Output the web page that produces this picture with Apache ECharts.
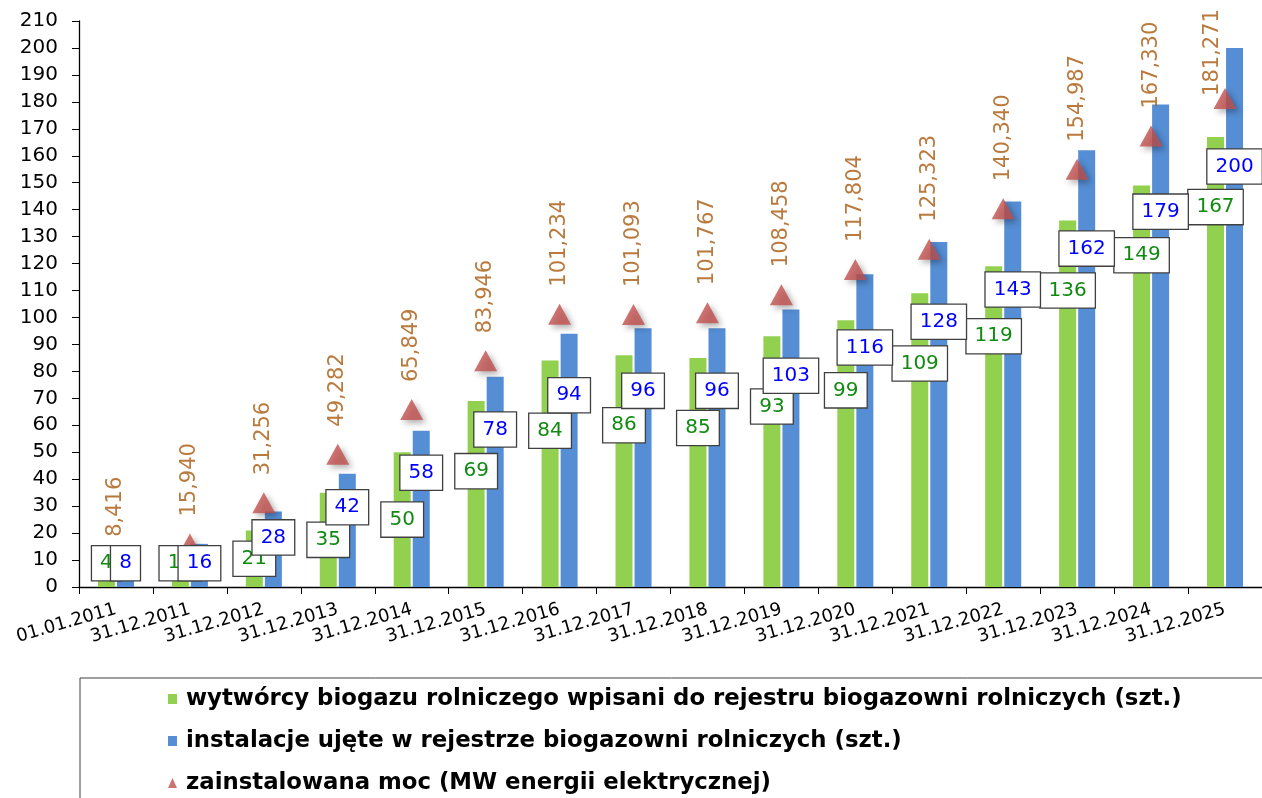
<!DOCTYPE html>
<html>
<head>
<meta charset="utf-8">
<script src="https://cdn.jsdelivr.net/npm/echarts@6/dist/echarts.min.js"></script>
<style>
html,body{margin:0;padding:0;background:#fff;}
#chart{width:1262px;height:798px;}
</style>
</head>
<body>
<div id="chart"></div>
<script>
const categories = ['01.01.2011','31.12.2011','31.12.2012','31.12.2013','31.12.2014','31.12.2015','31.12.2016','31.12.2017','31.12.2018','31.12.2019','31.12.2020','31.12.2021','31.12.2022','31.12.2023','31.12.2024','31.12.2025'];
const producers = [4,10,21,35,50,69,84,86,85,93,99,109,119,136,149,167];
const installations = [8,16,28,42,58,78,94,96,96,103,116,128,143,162,179,200];
const capacityMW = [8.416,15.940,31.256,49.282,65.849,83.946,101.234,101.093,101.767,108.458,117.804,125.323,140.340,154.987,167.330,181.271];
const seriesNames = [
  'wytwórcy biogazu rolniczego wpisani do rejestru biogazowni rolniczych (szt.)',
  'instalacje ujęte w rejestrze biogazowni rolniczych (szt.)',
  'zainstalowana moc (MW energii elektrycznej)'
];
const yMin = 0, yMax = 210, yStep = 10;

const FONT = 'DejaVu Sans';
const GREEN = '#92D050', BLUE = '#558ED5', RED = '#C0504D', BROWN = '#A9570C';

// label placement rule (in value units): where the centre of the boxed label sits
function greenLabelAt(v){ return Math.max(8.8, 0.5*v, v-26); }
function blueLabelAt(v){ return Math.max(8.8, 0.8*v-4); }
function boxLabel(v, at, color){
  const pct = ((v - at) / v * 100).toFixed(1) + '%';
  return {
    value: v,
    label: {
      show: true, position: ['50%', pct], align: 'center', verticalAlign: 'middle',
      color: color, fontFamily: FONT, fontSize: 20, lineHeight: 24,
      backgroundColor: '#fff', borderColor: '#404040', borderWidth: 1.3,
      padding: [5, 8, 5, 8]
    }
  };
}
// capacity labels sit above the triangle; near the top edge they move beside it
// (offset is in the rotated text frame: [along text, across text])
function capacityPoint(v){
  const item = { value: v };
  if (v > 175) item.label = { offset: [-25, -12] };
  return item;
}

const chart = echarts.init(document.getElementById('chart'));
const barCommon = { barWidth: 17, barGap: '12%' };
chart.setOption({
  animation: false,
  grid: { left: 79, right: -9, top: 21, bottom: 211, containLabel: false },
  graphic: [{
    type: 'rect', silent: true, z: -1,
    shape: { x: 80, y: 678, width: 1300, height: 200 },
    style: { fill: 'none', stroke: '#404040', lineWidth: 1 }
  }],
  legend: {
    orient: 'vertical', left: 80, top: 678,
    padding: [9, 10, 0, 88],
    itemWidth: 9, itemHeight: 10, itemGap: 18,
    data: [
      { name: seriesNames[0], icon: 'rect' },
      { name: seriesNames[1], icon: 'rect' },
      { name: seriesNames[2], icon: 'triangle' }
    ],
    textStyle: { fontFamily: FONT, fontSize: 22.8, fontWeight: 'bold', color: '#000', lineHeight: 24, padding: [0,0,0,4] }
  },
  xAxis: [{
    type: 'category', data: categories,
    axisLine: { lineStyle: { color: '#000', width: 1.3 } },
    axisTick: { show: true, length: 7, lineStyle: { color: '#000' } },
    axisLabel: { interval: 0, rotate: 16, fontFamily: FONT, fontSize: 18, color: '#000', margin: 22 }
  }, {
    type: 'category', data: categories, show: false
  }],
  yAxis: {
    type: 'value', min: yMin, max: yMax, interval: yStep,
    axisLine: { show: true, lineStyle: { color: '#000', width: 1.3 } },
    axisTick: { show: true, length: 7, lineStyle: { color: '#000' } },
    splitLine: { show: false },
    axisLabel: { fontFamily: FONT, fontSize: 20, color: '#000', margin: 21, align: 'right' }
  },
  series: [
    Object.assign({
      name: seriesNames[0], type: 'bar', xAxisIndex: 0, z: 2, data: producers,
      itemStyle: { color: GREEN }
    }, barCommon),
    Object.assign({
      name: seriesNames[1], type: 'bar', xAxisIndex: 0, z: 2, data: installations,
      itemStyle: { color: BLUE }
    }, barCommon),
    {
      name: seriesNames[2], type: 'scatter', xAxisIndex: 0, z: 3,
      symbol: 'triangle', symbolSize: [23, 21],
      data: capacityMW.map(capacityPoint),
      itemStyle: { color: RED, shadowBlur: 6, shadowOffsetX: 3, shadowOffsetY: 3, shadowColor: 'rgba(0,0,0,0.4)' },
      label: {
        show: true, position: 'top', rotate: 90, align: 'left', verticalAlign: 'middle', distance: 17,
        fontFamily: FONT, fontSize: 21, color: BROWN,
        formatter: p => p.value.toFixed(3).replace('.', ',')
      }
    },
    Object.assign({
      name: 'labels-green', type: 'bar', xAxisIndex: 1, z: 4, silent: true,
      itemStyle: { color: 'rgba(0,0,0,0)' },
      data: producers.map(v => boxLabel(v, greenLabelAt(v), '#118A11'))
    }, barCommon),
    Object.assign({
      name: 'labels-blue', type: 'bar', xAxisIndex: 1, z: 4, silent: true,
      itemStyle: { color: 'rgba(0,0,0,0)' },
      data: installations.map(v => boxLabel(v, blueLabelAt(v), '#0000FF'))
    }, barCommon)
  ]
});
</script>
</body>
</html>
